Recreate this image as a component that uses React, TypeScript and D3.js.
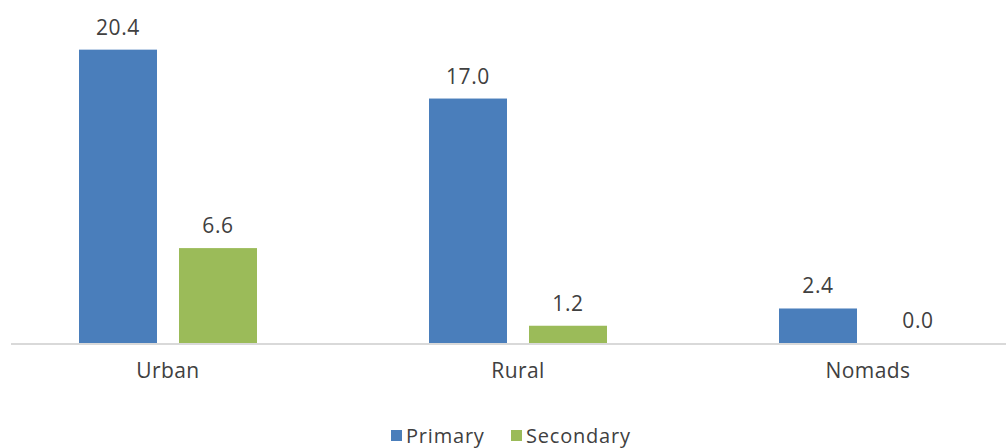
import React from "react";
import * as d3 from "d3";

const categories = ["Urban", "Rural", "Nomads"];
const seriesNames = ["Primary", "Secondary"];
const primaryValues = [20.4, 17.0, 2.4];
const secondaryValues = [6.6, 1.2, 0.0];
const colors = ["#4a7ebb", "#9bbb59"];

const W = 1006;
const H = 448;
const FONT = "'Open Sans', sans-serif";
const TEXT = "#404040";

export default function App() {
  const x = d3.scaleBand<string>().domain(categories).range([-7, 1043]).paddingInner(0).paddingOuter(0);
  const x1 = d3.scaleBand<string>().domain(seriesNames).range([86, 264]).paddingInner(0.22);
  const y = d3.scaleLinear().domain([0, 22]).range([343, 343 - 22 * 14.38]);
  const series = [primaryValues, secondaryValues];

  return (
    <svg width={W} height={H} style={{ position: "absolute", left: 0, top: 0 }}>
      <rect width={W} height={H} fill="#fff" />
      {categories.map((c, i) => (
        <g key={c} transform={`translate(${x(c)},0)`}>
          {series.map((vals, s) => {
            const v = vals[i];
            const bx = x1(seriesNames[s])!;
            const bw = x1.bandwidth();
            return (
              <g key={s}>
                {v > 0 && (
                  <rect x={bx} y={y(v)} width={bw} height={y(0) - y(v)} fill={colors[s]} />
                )}
                <text
                  x={bx + bw / 2}
                  y={y(v) - 15}
                  textAnchor="middle"
                  fontFamily={FONT}
                  fontSize={21}
                  letterSpacing={0.6}
                  fill={TEXT}
                >
                  {v.toFixed(1)}
                </text>
              </g>
            );
          })}
          <text
            x={x.bandwidth() / 2}
            y={378}
            textAnchor="middle"
            fontFamily={FONT}
            fontSize={21}
            letterSpacing={0.4}
            fill={TEXT}
          >
            {c}
          </text>
        </g>
      ))}
      <line x1={11} x2={1006} y1={y(0) + 1} y2={y(0) + 1} stroke="#d9d9d9" strokeWidth={2} />
      <g>
        <rect x={391} y={430} width={11} height={11} fill={colors[0]} />
        <text x={406} y={443} fontFamily={FONT} fontSize={20} letterSpacing={0.8} fill={TEXT}>{seriesNames[0]}</text>
        <rect x={511} y={430} width={11} height={11} fill={colors[1]} />
        <text x={526} y={443} fontFamily={FONT} fontSize={20} letterSpacing={0.8} fill={TEXT}>{seriesNames[1]}</text>
      </g>
    </svg>
  );
}
